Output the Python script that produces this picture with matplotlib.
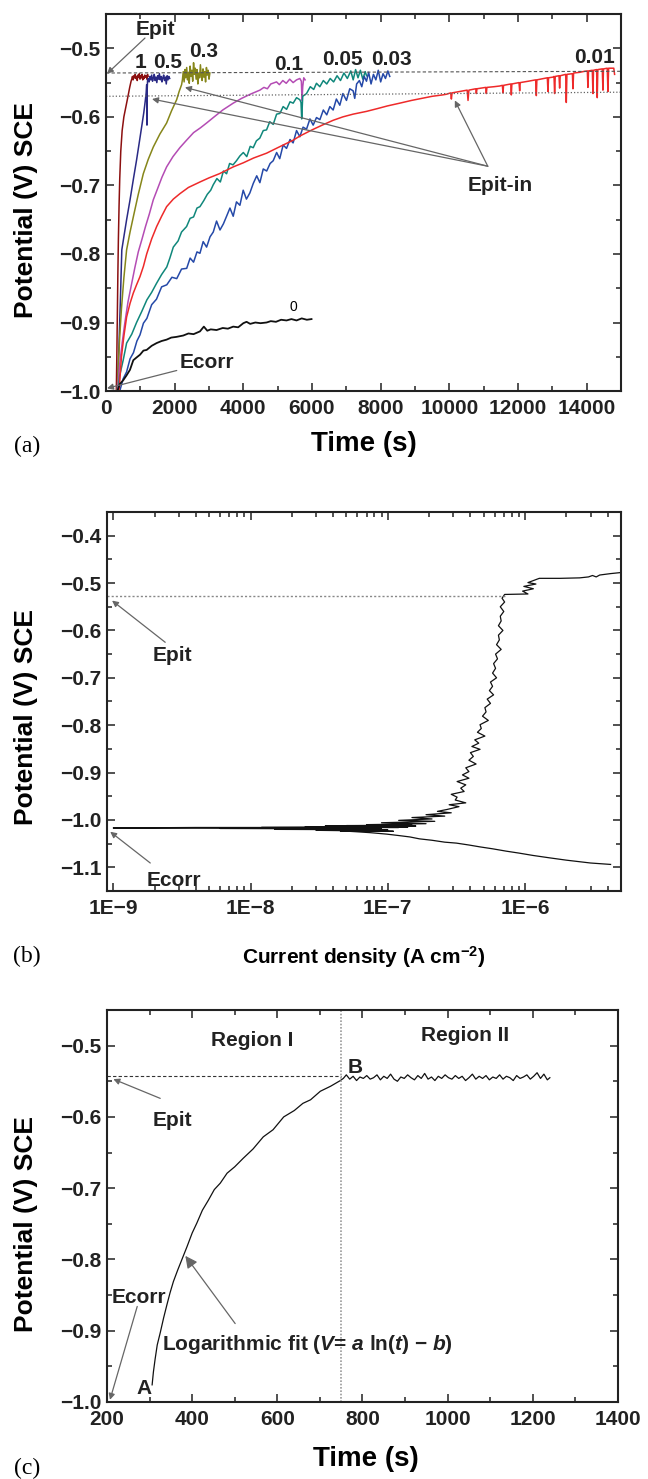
import math
import matplotlib
matplotlib.use("Agg")
import matplotlib.pyplot as plt
from matplotlib.ticker import MultipleLocator, FuncFormatter, FixedLocator, LogLocator, NullFormatter

plt.rcParams["font.family"] = "Liberation Sans"
plt.rcParams["font.weight"] = "bold"
plt.rcParams["axes.labelweight"] = "bold"
plt.rcParams["mathtext.fontset"] = "custom"
plt.rcParams["mathtext.rm"] = "Liberation Sans:bold"
plt.rcParams["mathtext.it"] = "Liberation Sans:italic:bold"
plt.rcParams["mathtext.bf"] = "Liberation Sans:bold"

# ---------------- (a) open circuit potential vs time, per concentration
t_1 = [300, 315, 330, 345, 360, 380, 400, 430, 470, 520, 580, 640, 690, 730,
       750, 770, 790, 810, 830, 850, 870, 890, 910, 930, 950, 970, 990, 1010,
       1030, 1050, 1070, 1090, 1110, 1130, 1150, 1170, 1190, 1210, 1225]
v_1 = [-1.0, -0.95, -0.89, -0.83, -0.78, -0.73, -0.69, -0.65, -0.62, -0.60, -0.585, -0.57, -0.557, -0.548,
       -0.545, -0.541, -0.546, -0.540, -0.543, -0.538, -0.544, -0.541, -0.547, -0.539, -0.542, -0.537, -0.545, -0.540,
       -0.543, -0.538, -0.546, -0.541, -0.544, -0.539, -0.542, -0.540, -0.545, -0.538, -0.541]

t_05 = [330, 350, 380, 420, 460, 520, 600, 700, 800, 890, 970, 1040, 1100, 1140, 1170,
        1185, 1193, 1200, 1210,
        1230, 1255, 1280, 1305, 1330, 1355, 1380, 1405, 1430, 1455, 1480, 1505, 1530,
        1555, 1580, 1605, 1630, 1655, 1680, 1705, 1730, 1755, 1780, 1805, 1830, 1855]
v_05 = [-1.0, -0.975, -0.93, -0.865, -0.794, -0.775, -0.75, -0.721, -0.69, -0.663, -0.637, -0.614, -0.594, -0.578, -0.565,
        -0.553, -0.612, -0.560, -0.547,
        -0.544, -0.549, -0.541, -0.546, -0.539, -0.548, -0.543, -0.538, -0.547, -0.542, -0.550, -0.540, -0.545,
        -0.537, -0.546, -0.541, -0.549, -0.543, -0.539, -0.547, -0.542, -0.552, -0.540, -0.546, -0.541, -0.544]

t_03 = [330, 360, 400, 450, 520, 600, 700, 795, 940, 1086, 1230, 1377, 1570, 1765, 1910, 2057, 2130, 2202,
        2225, 2250, 2275, 2300, 2325, 2350, 2375, 2400, 2425, 2450, 2475, 2500, 2525, 2550, 2575, 2600,
        2625, 2650, 2675, 2700, 2725, 2750, 2775, 2800, 2825, 2850, 2875, 2900, 2925, 2950, 2975, 3000, 3025]
v_03 = [-1.0, -0.96, -0.92, -0.88, -0.835, -0.794, -0.768, -0.746, -0.713, -0.683, -0.662, -0.644, -0.625, -0.609, -0.591, -0.575, -0.563, -0.553,
        -0.546, -0.534, -0.549, -0.531, -0.543, -0.528, -0.546, -0.535, -0.551, -0.526, -0.541, -0.532, -0.548, -0.521, -0.538, -0.529,
        -0.545, -0.531, -0.552, -0.536, -0.543, -0.524, -0.540, -0.547, -0.530, -0.542, -0.534, -0.549, -0.528, -0.539, -0.532, -0.545, -0.536]

t_01 = [330, 400, 470, 550, 640, 740, 840, 940, 1050, 1150, 1260, 1377, 1500, 1630, 1765, 1950, 2150, 2347, 2550, 2750,
        2929, 3150, 3400, 3705, 3950, 4200, 4482, 4600, 4700, 4800, 4967, 5050, 5150, 5250, 5350, 5450, 5550, 5646, 5690, 5710,
        5730, 5760, 5800]
v_01 = [-1.0, -0.96, -0.93, -0.90, -0.87, -0.845, -0.82, -0.797, -0.778, -0.76, -0.742, -0.721, -0.705, -0.688, -0.673, -0.658, -0.645, -0.634, -0.623, -0.616,
        -0.609, -0.600, -0.590, -0.580, -0.573, -0.567, -0.561, -0.557, -0.559, -0.552, -0.549, -0.553, -0.547, -0.551, -0.545, -0.550, -0.546, -0.544, -0.548, -0.576,
        -0.556, -0.543, -0.546]

t_005 = [350, 400, 500, 600, 750, 890, 1040, 1190, 1330, 1470, 1620, 1770, 1860, 1960, 2100, 2200, 2347, 2450, 2550, 2650,
         2736, 2850, 2950, 3050, 3124, 3230, 3330, 3420, 3512, 3600, 3700, 3800, 3900, 4000, 4100, 4200, 4288, 4380, 4480, 4580,
         4676, 4770, 4870, 4970, 5064, 5160, 5260, 5360, 5452, 5550, 5646, 5680, 5700, 5730, 5840, 5950, 6050, 6130, 6228, 6330,
         6430, 6530, 6630, 6730, 6830, 6930, 7030, 7130, 7200, 7270, 7340, 7410, 7480, 7550, 7590]
v_005 = [-1.0, -0.977, -0.955, -0.93, -0.917, -0.9, -0.884, -0.867, -0.856, -0.843, -0.83, -0.819, -0.806, -0.79, -0.781, -0.768, -0.76, -0.748, -0.746, -0.733,
         -0.731, -0.722, -0.713, -0.707, -0.699, -0.69, -0.695, -0.679, -0.683, -0.668, -0.67, -0.664, -0.657, -0.652, -0.658, -0.643, -0.645, -0.635, -0.631, -0.62,
         -0.619, -0.607, -0.611, -0.596, -0.595, -0.585, -0.589, -0.578, -0.58, -0.572, -0.575, -0.579, -0.603, -0.57, -0.566, -0.556, -0.56, -0.551, -0.556, -0.547,
         -0.552, -0.544, -0.549, -0.540, -0.547, -0.536, -0.544, -0.533, -0.546, -0.531, -0.543, -0.532, -0.545, -0.534, -0.54]

t_003 = [400, 500, 600, 700, 800, 900, 990, 1090, 1190, 1330, 1470, 1620, 1770, 1920, 2060, 2200, 2350, 2450, 2550, 2650,
         2736, 2830, 2930, 3030, 3124, 3220, 3320, 3420, 3520, 3610, 3705, 3800, 3900, 3996, 4090, 4190, 4290, 4390, 4482, 4580,
         4680, 4780, 4870, 4970, 5060, 5160, 5258, 5360, 5450, 5550, 5646, 5740, 5840, 5940, 6034, 6131, 6230, 6330, 6430, 6520,
         6616, 6710, 6810, 6900, 7004, 7100, 7198, 7245, 7300, 7380, 7450, 7520, 7587, 7650, 7720, 7790, 7860, 7930, 8000, 8070,
         8140, 8210, 8265]
v_003 = [-1.0, -0.982, -0.972, -0.953, -0.944, -0.927, -0.918, -0.901, -0.894, -0.874, -0.866, -0.848, -0.845, -0.834, -0.836, -0.822, -0.821, -0.806, -0.812, -0.797,
         -0.799, -0.782, -0.79, -0.775, -0.768, -0.752, -0.765, -0.756, -0.744, -0.733, -0.745, -0.724, -0.729, -0.707, -0.72, -0.711, -0.697, -0.686, -0.696, -0.676,
         -0.679, -0.668, -0.664, -0.652, -0.661, -0.641, -0.646, -0.633, -0.638, -0.62, -0.629, -0.615, -0.618, -0.603, -0.612, -0.601, -0.604, -0.59, -0.597, -0.585,
         -0.59, -0.574, -0.583, -0.566, -0.576, -0.559, -0.562, -0.573, -0.552, -0.547, -0.556, -0.541, -0.548, -0.535, -0.552, -0.538, -0.546, -0.532, -0.549, -0.537,
         -0.544, -0.533, -0.541]

t_001 = [380, 450, 520, 600, 700, 795, 890, 990, 1090, 1185, 1330, 1475, 1620, 1765, 1960, 2154, 2400, 2736, 3000, 3300,
         3705, 4000, 4300, 4676, 5000, 5452, 5646, 6000, 6300, 6616, 6900, 7200, 7587, 7900, 8200, 8557, 8900, 9200, 9500, 9800,
         9915, 10040, 10060, 10080, 10300, 10520, 10545, 10570, 10770, 10787, 10805, 11060, 11078, 11095, 11300, 11467, 11545, 11563, 11580, 11790,
         11806, 11822, 12030, 12049, 12065, 12300, 12515, 12534, 12550, 12855, 12873, 12890, 13019, 13050, 13067, 13085, 13195, 13213, 13230, 13390,
         13407, 13425, 13585, 13601, 13620, 13800, 13892, 14020, 14037, 14055, 14165, 14183, 14200, 14290, 14309, 14325, 14455, 14474, 14490, 14600,
         14620, 14640, 14790, 14814]
v_001 = [-1.0, -0.95, -0.92, -0.892, -0.872, -0.857, -0.845, -0.833, -0.818, -0.80, -0.778, -0.76, -0.745, -0.731, -0.72, -0.712, -0.703, -0.695, -0.689, -0.683,
         -0.673, -0.667, -0.66, -0.653, -0.645, -0.634, -0.628, -0.619, -0.612, -0.605, -0.600, -0.596, -0.592, -0.588, -0.584, -0.580, -0.576, -0.573, -0.570, -0.568,
         -0.567, -0.565, -0.574, -0.565, -0.563, -0.561, -0.576, -0.561, -0.559, -0.566, -0.559, -0.557, -0.566, -0.557, -0.556, -0.555, -0.554, -0.565, -0.554, -0.552,
         -0.568, -0.552, -0.550, -0.562, -0.550, -0.548, -0.546, -0.569, -0.546, -0.543, -0.563, -0.543, -0.542, -0.541, -0.566, -0.541, -0.540, -0.558, -0.540, -0.538,
         -0.579, -0.538, -0.537, -0.559, -0.536, -0.535, -0.534, -0.533, -0.557, -0.533, -0.532, -0.566, -0.532, -0.531, -0.572, -0.531, -0.530, -0.561, -0.530, -0.529,
         -0.563, -0.529, -0.529, -0.538]

t_0 = [330, 400, 504, 600, 698, 795, 890, 990, 1090, 1184, 1330, 1475, 1620, 1765, 1900, 2050, 2250, 2400, 2550, 2736,
       2850, 2950, 3050, 3220, 3400, 3550, 3705, 3850, 4000, 4094, 4200, 4350, 4500, 4676, 4800, 4950, 5100, 5258, 5400, 5550,
       5700, 5850, 5986]
v_0 = [-1.0, -0.99, -0.984, -0.977, -0.969, -0.955, -0.951, -0.947, -0.941, -0.94, -0.934, -0.93, -0.927, -0.925, -0.922, -0.921, -0.919, -0.916, -0.917, -0.913,
       -0.906, -0.912, -0.91, -0.911, -0.908, -0.909, -0.906, -0.907, -0.901, -0.899, -0.902, -0.9, -0.901, -0.9, -0.898, -0.899, -0.896, -0.897, -0.895, -0.897,
       -0.894, -0.896, -0.895]

epit_a = [-0.536, -0.5335]     # dashed reference line, left / right end
epitin_a = [-0.570, -0.564]    # dotted reference line
line_t_a = [0, 15000]

# ---------------- (b) polarisation curve
i_b = [4.2e-6, 3.0e-6, 2.0e-6, 1.5e-6, 1.14e-6, 9e-7, 7.3e-7, 5.8e-7, 4.7e-7, 3.9e-7,
       3.16e-7, 2.6e-7, 2.1e-7, 1.7e-7, 1.45e-7, 1.2e-7, 9.8e-8, 7.5e-8, 5.9e-8, 4.5e-8,
       1.1e-7, 3e-8, 1.0e-7, 1.5e-8, 9e-8, 6e-9, 8e-8, 1.0e-9, 4e-9, 1.2e-7,
       1.2e-8, 1.4e-7, 2.5e-8, 1.3e-7, 3.5e-8, 1.6e-7, 5e-8, 1.5e-7, 7e-8, 1.9e-7,
       9e-8, 2.2e-7, 1.2e-7, 2.1e-7, 1.5e-7, 2.6e-7, 1.9e-7, 2.9e-7, 2.3e-7, 2.7e-7,
       3.3e-7, 2.8e-7, 3.7e-7, 3.1e-7, 3.2e-7, 2.9e-7, 3.6e-7, 3.4e-7, 3.7e-7, 3.2e-7,
       3.9e-7, 3.5e-7, 3.9e-7, 3.7e-7, 4.4e-7, 3.9e-7, 4.2e-7, 4.0e-7, 4.7e-7, 4.1e-7,
       4.6e-7, 4.3e-7, 5.1e-7, 4.5e-7, 4.8e-7, 4.7e-7, 5.4e-7, 4.9e-7, 5.2e-7, 5.1e-7,
       5.6e-7, 5.3e-7, 5.9e-7, 5.5e-7, 5.8e-7, 5.6e-7, 6.2e-7, 5.8e-7, 6.1e-7, 5.9e-7,
       6.3e-7, 6.1e-7, 6.7e-7, 6.2e-7, 6.5e-7, 6.4e-7, 6.9e-7, 6.4e-7, 6.7e-7, 6.6e-7,
       7.0e-7, 6.6e-7, 7.1e-7, 6.8e-7, 7.1e-7, 1.05e-6, 9.6e-7, 1.15e-6, 9.8e-7, 1.2e-6,
       1.05e-6, 1.27e-6, 1.8e-6, 2.5e-6, 2.9e-6, 3.1e-6, 3.3e-6, 3.5e-6, 4.2e-6, 4.9e-6]
e_b = [-1.094, -1.091, -1.085, -1.080, -1.075, -1.070, -1.066, -1.061, -1.057, -1.053,
       -1.049, -1.047, -1.043, -1.040, -1.036, -1.033, -1.030, -1.027, -1.025, -1.023,
       -1.024, -1.022, -1.021, -1.020, -1.019, -1.018, -1.018, -1.017, -1.016, -1.016,
       -1.016, -1.015, -1.015, -1.014, -1.013, -1.013, -1.012, -1.011, -1.010, -1.008,
       -1.006, -1.003, -1.001, -0.998, -0.995, -0.992, -0.989, -0.985, -0.982, -0.978,
       -0.972, -0.968, -0.964, -0.958, -0.952, -0.946, -0.940, -0.933, -0.926, -0.919,
       -0.912, -0.905, -0.898, -0.890, -0.882, -0.874, -0.866, -0.858, -0.851, -0.845,
       -0.838, -0.831, -0.823, -0.815, -0.807, -0.799, -0.790, -0.781, -0.772, -0.763,
       -0.754, -0.745, -0.736, -0.727, -0.718, -0.709, -0.700, -0.690, -0.680, -0.670,
       -0.660, -0.650, -0.640, -0.630, -0.620, -0.610, -0.600, -0.590, -0.580, -0.570,
       -0.560, -0.550, -0.540, -0.532, -0.524, -0.523, -0.517, -0.512, -0.507, -0.502,
       -0.499, -0.490, -0.490, -0.489, -0.487, -0.484, -0.487, -0.483, -0.480, -0.478]
epit_b = -0.528
epit_b_i = [9.0e-10, 7.1e-7]

# ---------------- (c) single test, regions I / II
t_c = [306, 309, 313, 318, 325, 333, 341, 348, 356, 366, 376, 388, 400, 411, 424, 438, 452, 466, 482, 500,
       520, 543, 567, 590, 615, 640, 660, 678, 701, 725, 748,
       755, 762, 770, 778, 786, 794, 802, 810, 818, 826, 834, 842, 850, 858, 866, 874, 882, 890, 898, 906,
       914, 922, 930, 938, 946, 954, 962, 970, 978, 986, 994, 1002, 1010, 1018, 1026, 1034, 1042, 1050, 1058, 1066,
       1074, 1082, 1090, 1098, 1106, 1114, 1122, 1130, 1138, 1146, 1154, 1162, 1170, 1178, 1186, 1194, 1202, 1210, 1218, 1226,
       1234, 1240]
v_c = [-0.976, -0.958, -0.94, -0.92, -0.903, -0.882, -0.863, -0.847, -0.831, -0.815, -0.800, -0.782, -0.763, -0.749, -0.731, -0.717, -0.702, -0.693, -0.679, -0.670,
       -0.658, -0.645, -0.628, -0.618, -0.600, -0.591, -0.581, -0.576, -0.564, -0.557, -0.549,
       -0.546, -0.541, -0.547, -0.543, -0.549, -0.544, -0.546, -0.542, -0.547, -0.545, -0.541, -0.548, -0.543, -0.546, -0.540, -0.547, -0.550, -0.544, -0.546, -0.541,
       -0.545, -0.548, -0.542, -0.546, -0.539, -0.547, -0.544, -0.549, -0.543, -0.546, -0.541, -0.545, -0.547, -0.542, -0.546, -0.543, -0.549, -0.545, -0.540, -0.547,
       -0.543, -0.546, -0.542, -0.548, -0.544, -0.546, -0.541, -0.547, -0.543, -0.545, -0.549, -0.542, -0.546, -0.544, -0.541, -0.547, -0.543, -0.538, -0.546, -0.540,
       -0.548, -0.545]
epit_c = -0.543
t_boundary = 750

curves_a = [
    ("1", t_1, v_1, "#8c1010"),
    ("0.5", t_05, v_05, "#2a2a85"),
    ("0.3", t_03, v_03, "#86861a"),
    ("0.1", t_01, v_01, "#b44cb4"),
    ("0.05", t_005, v_005, "#10877b"),
    ("0.03", t_003, v_003, "#2549a8"),
    ("0.01", t_001, v_001, "#ee2a2a"),
    ("0", t_0, v_0, "#111111"),
]

ARROW = dict(arrowstyle="-|>", color="#666666", lw=0.9, mutation_scale=9, shrinkA=0, shrinkB=0)


def minusFmt(fmt):
    return FuncFormatter(lambda v, pos: fmt.format(v).replace("-", "\u2212"))


def styleAxes(ax):
    for s in ax.spines.values():
        s.set_linewidth(1.5)
        s.set_color("#222222")
    ax.tick_params(which="both", direction="in", top=True, right=True, width=1.1,
                   labelsize=15, pad=4, colors="#222222")
    ax.tick_params(axis="x", which="both", pad=6)
    ax.tick_params(which="major", length=6)
    ax.tick_params(which="minor", length=3.5)


fig = plt.figure(figsize=(6.48, 14.79), dpi=100)

# ---------------- panel (a)
ax1 = fig.add_axes([0.1636, 0.7356, 0.7947, 0.2549])
for name, t, v, c in curves_a:
    ax1.plot(t, v, color=c, lw=1.1 if name != "0" else 1.3)
ax1.plot(line_t_a, epit_a, color="#555555", lw=0.8, ls=(0, (3, 2)))
ax1.plot(line_t_a, epitin_a, color="#666666", lw=0.9, ls=(0, (1, 1.6)))
ax1.set_xlim(0, 15000)
ax1.set_ylim(-1.0, -0.45)
ax1.xaxis.set_major_locator(MultipleLocator(2000))
ax1.xaxis.set_minor_locator(MultipleLocator(1000))
ax1.yaxis.set_major_locator(MultipleLocator(0.1))
ax1.yaxis.set_minor_locator(MultipleLocator(0.05))
ax1.yaxis.set_major_formatter(minusFmt("{:.1f}"))
styleAxes(ax1)

labelPos = {"1": (990, -0.52), "0.5": (1800, -0.52), "0.3": (2850, -0.505), "0.1": (5330, -0.524),
            "0.05": (6900, -0.517), "0.03": (8320, -0.517), "0.01": (14230, -0.513)}
for name, (x, y) in labelPos.items():
    ax1.text(x, y, name, fontsize=15, ha="center", va="center", color="#222222")
ax1.text(5450, -0.877, "0", fontsize=10, fontweight="normal", ha="center", va="center")

ax1.annotate("", xy=(30, -0.537), xytext=(1135, -0.485), arrowprops=ARROW)
ax1.text(1430, -0.473, "Epit", fontsize=15, ha="center", va="center", color="#222222")
ax1.text(11470, -0.700, "Epit-in", fontsize=15, ha="center", va="center", color="#222222")
for tip in [(10160, -0.576), (2300, -0.557), (1340, -0.574)]:
    ax1.annotate("", xy=tip, xytext=(11120, -0.672), arrowprops=ARROW)
ax1.annotate("", xy=(30, -0.996), xytext=(2060, -0.970), arrowprops=ARROW)
ax1.text(2950, -0.958, "Ecorr", fontsize=15, ha="center", va="center", color="#222222")

ax1.set_xlabel("Time (s)", fontsize=20)
ax1.xaxis.set_label_coords(0.5, -0.105)
ax1.set_ylabel("Potential (V) SCE", fontsize=19)
ax1.yaxis.set_label_coords(-0.133, 0.48)

# ---------------- panel (b)
ax2 = fig.add_axes([0.1651, 0.3976, 0.7932, 0.2562])
ax2.plot(i_b, e_b, color="#111111", lw=0.9)
ax2.plot(epit_b_i, [epit_b, epit_b], color="#888888", lw=1.0, ls=(0, (1.5, 1.5)))
ax2.set_xscale("log")
ax2.set_xlim(9.0e-10, 5.0e-6)
ax2.set_ylim(-1.15, -0.35)
ax2.xaxis.set_major_locator(FixedLocator([1e-9, 1e-8, 1e-7, 1e-6]))
ax2.xaxis.set_major_formatter(FuncFormatter(lambda v, pos: "1E\u2212%d" % round(-math.log10(v))))
ax2.xaxis.set_minor_locator(LogLocator(base=10, subs=[2, 3, 4, 5, 6, 7, 8, 9], numticks=20))
ax2.xaxis.set_minor_formatter(NullFormatter())
ax2.yaxis.set_major_locator(MultipleLocator(0.1))
ax2.yaxis.set_minor_locator(MultipleLocator(0.05))
ax2.yaxis.set_major_formatter(minusFmt("{:.1f}"))
styleAxes(ax2)

ax2.annotate("", xy=(0.98e-9, -0.537), xytext=(2.39e-9, -0.625), arrowprops=ARROW)
ax2.text(2.69e-9, -0.652, "Epit", fontsize=15, ha="center", va="center", color="#222222")
ax2.annotate("", xy=(0.95e-9, -1.025), xytext=(1.86e-9, -1.091), arrowprops=ARROW)
ax2.text(2.75e-9, -1.128, "Ecorr", fontsize=15, ha="center", va="center", color="#222222")

ax2.set_xlabel("Current density (A cm$^{-2}$)", fontsize=15)
ax2.xaxis.set_label_coords(0.5, -0.14)
ax2.set_ylabel("Potential (V) SCE", fontsize=19)
ax2.yaxis.set_label_coords(-0.135, 0.459)

# ---------------- panel (c)
ax3 = fig.add_axes([0.1651, 0.0521, 0.7886, 0.2650])
ax3.plot(t_c, v_c, color="#111111", lw=0.9)
ax3.plot([200, t_boundary], [epit_c, epit_c], color="#333333", lw=0.8, ls=(0, (3, 2)))
ax3.axvline(t_boundary, color="#999999", lw=1.2, ls=(0, (1, 1)))
ax3.set_xlim(200, 1400)
ax3.set_ylim(-1.0, -0.45)
ax3.xaxis.set_major_locator(MultipleLocator(200))
ax3.xaxis.set_minor_locator(MultipleLocator(100))
ax3.yaxis.set_major_locator(MultipleLocator(0.1))
ax3.yaxis.set_minor_locator(MultipleLocator(0.05))
ax3.yaxis.set_major_formatter(minusFmt("{:.1f}"))
styleAxes(ax3)

ax3.text(542, -0.493, "Region I", fontsize=15, ha="center", va="center", color="#222222")
ax3.text(1042, -0.486, "Region II", fontsize=15, ha="center", va="center", color="#222222")
ax3.text(784, -0.531, "B", fontsize=15, ha="center", va="center", color="#222222")
ax3.text(287, -0.981, "A", fontsize=15, ha="center", va="center", color="#222222")
ax3.annotate("", xy=(215, -0.547), xytext=(325, -0.574), arrowprops=ARROW)
ax3.text(353, -0.605, "Epit", fontsize=15, ha="center", va="center", color="#222222")
ax3.annotate("", xy=(207, -0.997), xytext=(271, -0.866), arrowprops=ARROW)
ax3.text(274, -0.853, "Ecorr", fontsize=15, ha="center", va="center", color="#222222")
ax3.annotate("", xy=(384, -0.795), xytext=(501, -0.890),
             arrowprops=dict(arrowstyle="-|>", color="#666666", lw=0.9, mutation_scale=18, shrinkA=0, shrinkB=0))
ax3.text(329, -0.920, "Logarithmic fit ($V$= $a$ ln($t$) \u2212 $b$)", fontsize=15, ha="left", va="center",
         color="#222222")

ax3.set_xlabel("Time (s)", fontsize=20)
ax3.xaxis.set_label_coords(0.507, -0.112)
ax3.set_ylabel("Potential (V) SCE", fontsize=19)
ax3.yaxis.set_label_coords(-0.135, 0.454)

# panel letters
for lab, y in [("(a)", 0.698), ("(b)", 0.353), ("(c)", 0.0074)]:
    fig.text(0.042, y, lab, fontsize=17, fontweight="normal", family="Liberation Serif", ha="center", va="center")

fig.savefig("out.png", dpi=100)
